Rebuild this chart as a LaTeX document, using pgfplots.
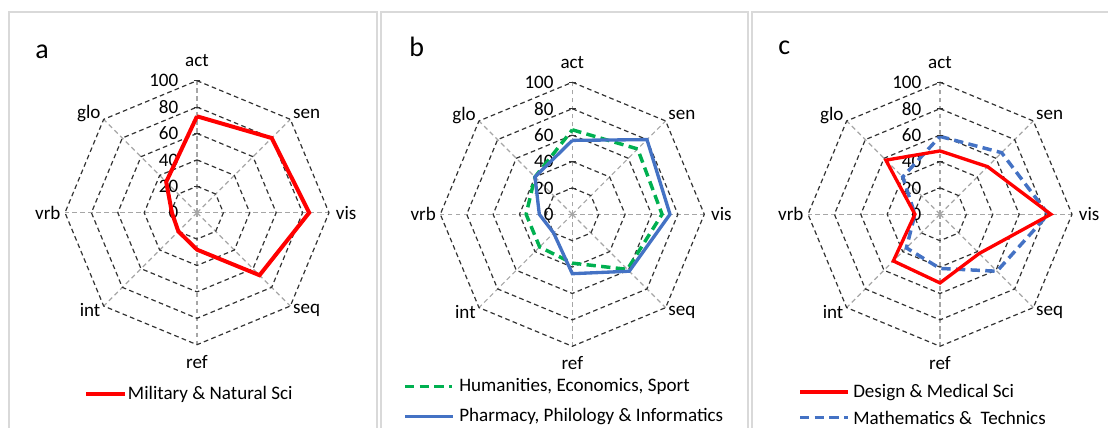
\documentclass[border=0pt]{standalone}
\usepackage{pgfplots}
\pgfplotsset{compat=1.18}
\usepackage{fontspec}
\setmainfont{Carlito}
\definecolor{xred}{HTML}{FF0000}
\definecolor{xgreen}{HTML}{00B050}
\definecolor{xblue}{HTML}{4472C4}
\definecolor{gridgray}{HTML}{A6A6A6}
\definecolor{panelgray}{HTML}{D9D9D9}
\newcommand\lab{\fontsize{14.3pt}{17pt}\selectfont}
\tikzset{lbl/.style={font=\lab}}
\pgfplotsset{
  gridblack/.style={black!80, dash pattern=on 3.5pt off 2.5pt, line width=0.9pt, forget plot},
  gridray/.style={gridgray, dash pattern=on 3.5pt off 2.5pt, line width=0.9pt, forget plot},
  radar/.style={hide axis, scale only axis, width=217.8pt, height=217.8pt,
    xmin=-110, xmax=110, ymin=-110, ymax=110, clip=false, anchor=center},
}
\newcommand\radargrid{%
  \addplot[gridray, data cs=polar] coordinates {(90,0) (90,100)};
  \addplot[gridray, data cs=polar] coordinates {(45,0) (45,100)};
  \addplot[gridray, data cs=polar] coordinates {(0,0) (0,100)};
  \addplot[gridray, data cs=polar] coordinates {(-45,0) (-45,100)};
  \addplot[gridray, data cs=polar] coordinates {(-90,0) (-90,100)};
  \addplot[gridray, data cs=polar] coordinates {(-135,0) (-135,100)};
  \addplot[gridray, data cs=polar] coordinates {(180,0) (180,100)};
  \addplot[gridray, data cs=polar] coordinates {(135,0) (135,100)};
  \addplot[gridblack, data cs=polar] coordinates {(90,20) (45,20) (0,20) (-45,20) (-90,20) (-135,20) (180,20) (135,20) (90,20)};
  \addplot[gridblack, data cs=polar] coordinates {(90,40) (45,40) (0,40) (-45,40) (-90,40) (-135,40) (180,40) (135,40) (90,40)};
  \addplot[gridblack, data cs=polar] coordinates {(90,60) (45,60) (0,60) (-45,60) (-90,60) (-135,60) (180,60) (135,60) (90,60)};
  \addplot[gridblack, data cs=polar] coordinates {(90,80) (45,80) (0,80) (-45,80) (-90,80) (-135,80) (180,80) (135,80) (90,80)};
  \addplot[gridblack, data cs=polar] coordinates {(90,100) (45,100) (0,100) (-45,100) (-90,100) (-135,100) (180,100) (135,100) (90,100)};
  \addplot[only marks, mark=-, mark size=2.5pt, black!80, forget plot] coordinates {(0,20) (0,40) (0,60) (0,80) (0,100)};
  \node[lbl, anchor=east, inner sep=0pt] at (axis cs:-14,100) {100};
  \node[lbl, anchor=east, inner sep=0pt] at (axis cs:-14,80) {80};
  \node[lbl, anchor=east, inner sep=0pt] at (axis cs:-14,60) {60};
  \node[lbl, anchor=east, inner sep=0pt] at (axis cs:-14,40) {40};
  \node[lbl, anchor=east, inner sep=0pt] at (axis cs:-14,20) {20};
  \node[lbl, anchor=east, inner sep=0pt] at (axis cs:-14,0) {0};
  \node[lbl] at (axis cs:0,115) {act};
  \node[lbl] at (axis cs:83,75) {sen};
  \node[lbl] at (axis cs:113,0) {vis};
  \node[lbl] at (axis cs:83,-74) {seq};
  \node[lbl] at (axis cs:0,-113) {ref};
  \node[lbl] at (axis cs:-81,-74) {int};
  \node[lbl] at (axis cs:-113,0) {vrb};
  \node[lbl] at (axis cs:-82,75) {glo};
}
\begin{document}
\begin{tikzpicture}[x=0.75pt, y=0.75pt]
\path[use as bounding box] (0,0) rectangle (1108,428);
% panel frames
\draw[panelgray, line width=0.9pt] (9,-10) -- (9,416) -- (377,416) -- (377,-10);
\draw[panelgray, line width=0.9pt] (381,-10) -- (381,416) -- (748,416) -- (748,-10);
\draw[panelgray, line width=0.9pt] (752,-10) -- (752,416) -- (1120,416);

% panel a
\begin{axis}[radar, at={(147.75pt,161.48pt)}]
\radargrid
\addplot[xred, line width=3pt, line join=miter, data cs=polar] coordinates {
  (90,73) (45,80) (0,85) (-45,67) (-90,28) (-135,20) (180,19) (135,33) (90,73)};
\end{axis}

% panel b
\begin{axis}[radar, at={(429.23pt,160.28pt)}]
\radargrid
\addplot[xgreen, line width=2.6pt, dash pattern=on 7pt off 4pt, data cs=polar] coordinates {
  (90,64) (45,70) (0,68) (-45,59) (-90,37) (-135,35) (180,35) (135,40) (90,64)};
\addplot[xblue, line width=2.5pt, line join=miter, data cs=polar] coordinates {
  (90,56) (45,80) (0,74) (-45,61) (-90,45) (-135,20) (180,25) (135,40) (90,56)};
\end{axis}

% panel c
\begin{axis}[radar, at={(705pt,160.28pt)}]
\radargrid
\addplot[xblue, line width=2.6pt, dash pattern=on 7pt off 4pt, data cs=polar] coordinates {
  (90,59) (45,66) (0,82) (-45,61) (-90,41) (-135,36) (180,19) (135,40) (90,59)};
\addplot[xred, line width=2.5pt, line join=miter, data cs=polar] coordinates {
  (90,48) (45,51) (0,84) (-45,42) (-90,52) (-135,50) (180,19) (135,58) (90,48)};
\end{axis}

% panel letters
\node[anchor=base west, inner sep=0pt, font=\fontsize{21pt}{24pt}\selectfont] at (35,369) {a};
\node[anchor=base west, inner sep=0pt, font=\fontsize{21pt}{24pt}\selectfont] at (409,371) {b};
\node[anchor=base west, inner sep=0pt, font=\fontsize{21pt}{24pt}\selectfont] at (778,373) {c};

% legends
\draw[xred, line width=3pt] (86,33.7) -- (125,33.7);
\node[lbl, anchor=west, inner sep=0pt] at (127.7,33.7) {Military \& Natural Sci};

\draw[xgreen, line width=2.6pt, dash pattern=on 7pt off 4pt] (405,41.3) -- (452,41.3);
\node[lbl, anchor=west, inner sep=0pt] at (459,41.3) {Humanities, Economics, Sport};
\draw[xblue, line width=2.5pt] (405,11.5) -- (453,11.5);
\node[lbl, anchor=west, inner sep=0pt] at (459,11.5) {Pharmacy, Philology \& Informatics};

\draw[xred, line width=3pt] (800,35.7) -- (848,35.7);
\node[lbl, anchor=west, inner sep=0pt] at (853,35.7) {Design \& Medical Sci};
\draw[xblue, line width=2.6pt, dash pattern=on 7pt off 4pt] (800,10.5) -- (848,10.5);
\node[lbl, anchor=west, inner sep=0pt] at (853,10.5) {Mathematics \&\ \ Technics};
\end{tikzpicture}
\end{document}
